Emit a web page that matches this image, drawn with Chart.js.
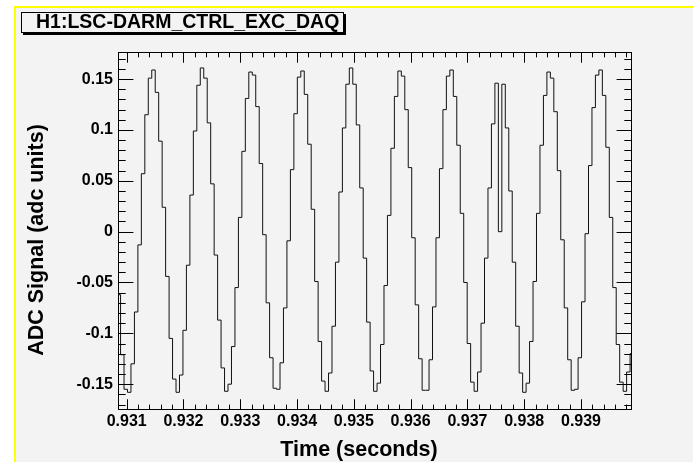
<!DOCTYPE html>
<html>
<head>
<meta charset="utf-8">
<title>H1:LSC-DARM_CTRL_EXC_DAQ</title>
<script src="https://cdn.jsdelivr.net/npm/chart.js@4.4.1/dist/chart.umd.min.js"></script>
<style>
  html, body { margin: 0; padding: 0; background: #fff; }
  #wrap { width: 693px; height: 462px; }
</style>
</head>
<body>
<div id="wrap"><canvas id="chart" width="693" height="462"></canvas></div>
<script>
// DARM excitation channel, short stretch of raw samples
const channelName = 'H1:LSC-DARM_CTRL_EXC_DAQ';
const xTitle = 'Time (seconds)';
const yTitle = 'ADC Signal (adc units)';

// first sample time and sample spacing (16384 Hz channel)
const startTime = 0.930831;
const sampleStep = 1 / 16384;

// sample values, in time order
const adcValues = [
  -0.062, -0.121, -0.155, -0.158, -0.130, -0.079, -0.013, 0.057, 0.115, 0.151,
  0.159, 0.137, 0.089, 0.024, -0.044, -0.105, -0.145, -0.158, -0.141, -0.097,
  -0.033, 0.036, 0.099, 0.144, 0.161, 0.151, 0.107, 0.047, -0.023, -0.087,
  -0.134, -0.157, -0.150, -0.113, -0.055, 0.014, 0.079, 0.131, 0.157, 0.154,
  0.123, 0.067, -0.003, -0.070, -0.124, -0.154, -0.155, -0.129, -0.075, -0.009,
  0.061, 0.116, 0.152, 0.158, 0.135, 0.086, 0.022, -0.049, -0.108, -0.147,
  -0.157, -0.139, -0.093, -0.030, 0.039, 0.102, 0.145, 0.161, 0.145, 0.105,
  0.043, -0.026, -0.089, -0.137, -0.157, -0.149, -0.111, -0.053, 0.016, 0.082,
  0.133, 0.158, 0.153, 0.120, 0.063, -0.006, -0.072, -0.125, -0.156, -0.156,
  -0.126, -0.074, -0.006, 0.062, 0.120, 0.153, 0.159, 0.133, 0.085, 0.018,
  -0.050, -0.110, -0.148, -0.157, -0.138, -0.090, -0.026, 0.043, 0.106, 0.146,
  0.000, 0.145, 0.102, 0.040, -0.030, -0.093, -0.139, -0.158, -0.149, -0.108,
  -0.049, 0.018, 0.085, 0.134, 0.157, 0.151, 0.118, 0.060, -0.008, -0.075,
  -0.126, -0.156, -0.155, -0.124, -0.069, -0.002, 0.065, 0.122, 0.154, 0.159,
  0.134, 0.083, 0.014, -0.055, -0.111, -0.148, -0.157, -0.138, -0.120
];

const xTicks = [0.931, 0.932, 0.933, 0.934, 0.935, 0.936, 0.937, 0.938, 0.939];
const yTicks = [-0.15, -0.1, -0.05, 0, 0.05, 0.1, 0.15];
const xRange = [0.930847, 0.939898];
const yRange = [-0.1754, 0.1767];
const xMinorStep = 0.0002;
const yMinorStep = 0.01;

const fontFamily = '"Liberation Sans", Arial, Helvetica, sans-serif';

// each sample is held for one step, so close the last bin with an end point
const samplePoints = adcValues.map((v, i) => ({ x: startTime + i * sampleStep, y: v }));
samplePoints.push({ x: startTime + adcValues.length * sampleStep, y: adcValues[adcValues.length - 1] });

// canvas background, frame, inward ticks, title box and axis titles
const rootStyle = {
  id: 'rootStyle',
  beforeDraw(chart) {
    const ctx = chart.ctx;
    ctx.save();
    ctx.fillStyle = '#ffffff';
    ctx.fillRect(0, 0, chart.width, chart.height);
    ctx.fillStyle = '#f3f3f3';
    ctx.fillRect(16, 8, chart.width - 16, chart.height - 8);
    ctx.fillStyle = '#ffff00';
    ctx.fillRect(14, 6, 2, chart.height - 6);
    ctx.fillRect(14, 6, chart.width - 14, 2);
    ctx.restore();
  },
  afterDraw(chart) {
    const { ctx, chartArea: a, scales: { x, y } } = chart;
    ctx.save();
    ctx.strokeStyle = '#000';
    ctx.lineWidth = 1;
    ctx.strokeRect(a.left + 0.5, a.top + 0.5, a.right - a.left - 1, a.bottom - a.top - 1);

    const xLen = 0.03 * (a.bottom - a.top);
    const yLen = 0.03 * (a.right - a.left);
    ctx.beginPath();
    for (let k = Math.ceil(xRange[0] / xMinorStep); k <= Math.floor(xRange[1] / xMinorStep); k++) {
      const px = Math.round(x.getPixelForValue(k * xMinorStep)) + 0.5;
      const len = k % 5 === 0 ? xLen : xLen / 2;
      ctx.moveTo(px, a.bottom); ctx.lineTo(px, a.bottom - len);
      ctx.moveTo(px, a.top); ctx.lineTo(px, a.top + len);
    }
    for (let k = Math.ceil(yRange[0] / yMinorStep); k <= Math.floor(yRange[1] / yMinorStep); k++) {
      const py = Math.round(y.getPixelForValue(k * yMinorStep)) + 0.5;
      const len = k % 5 === 0 ? yLen : yLen / 2;
      ctx.moveTo(a.left, py); ctx.lineTo(a.left + len, py);
      ctx.moveTo(a.right, py); ctx.lineTo(a.right - len, py);
    }
    ctx.stroke();

    // title box with shadow
    ctx.fillStyle = '#000';
    ctx.fillRect(23, 14, 323, 21);
    ctx.fillStyle = '#f3f3f3';
    ctx.fillRect(21, 12, 323, 21);
    ctx.strokeRect(21.5, 12.5, 322, 20);
    ctx.fillStyle = '#000';
    ctx.font = 'bold 19.5px ' + fontFamily;
    ctx.textAlign = 'left';
    ctx.textBaseline = 'alphabetic';
    ctx.fillText(channelName, 36, 27.5);

    // axis titles
    ctx.font = 'bold 21.5px ' + fontFamily;
    ctx.textAlign = 'center';
    ctx.fillText(xTitle, 359, 456);
    ctx.translate(43, 240);
    ctx.rotate(-Math.PI / 2);
    ctx.fillText(yTitle, 0, 0);
    ctx.restore();
  }
};

const tickFont = { family: fontFamily, size: 16, weight: 'bold' };

new Chart(document.getElementById('chart'), {
  type: 'line',
  data: {
    datasets: [{
      data: samplePoints,
      stepped: 'before',
      borderColor: '#111',
      borderWidth: 1,
      pointRadius: 0,
      fill: false,
      clip: 0
    }]
  },
  options: {
    responsive: false,
    animation: false,
    layout: { padding: { left: 0, top: 52, right: 61, bottom: 0 } },
    plugins: {
      legend: { display: false },
      tooltip: { enabled: false }
    },
    scales: {
      x: {
        type: 'linear',
        min: xRange[0],
        max: xRange[1],
        grid: { display: false, drawTicks: false },
        border: { display: false },
        afterBuildTicks: s => { s.ticks = xTicks.map(v => ({ value: v })); },
        afterFit: s => { s.height = 52; },
        ticks: {
          font: tickFont,
          color: '#000',
          padding: 2,
          maxRotation: 0,
          autoSkip: false,
          callback: v => v.toFixed(3)
        }
      },
      y: {
        type: 'linear',
        min: yRange[0],
        max: yRange[1],
        grid: { display: false, drawTicks: false },
        border: { display: false },
        afterBuildTicks: s => { s.ticks = yTicks.map(v => ({ value: v })); },
        afterFit: s => { s.width = 118; },
        ticks: {
          font: tickFont,
          color: '#000',
          padding: 5,
          autoSkip: false,
          callback: v => String(+v.toFixed(2))
        }
      }
    }
  },
  plugins: [rootStyle]
});
</script>
</body>
</html>
